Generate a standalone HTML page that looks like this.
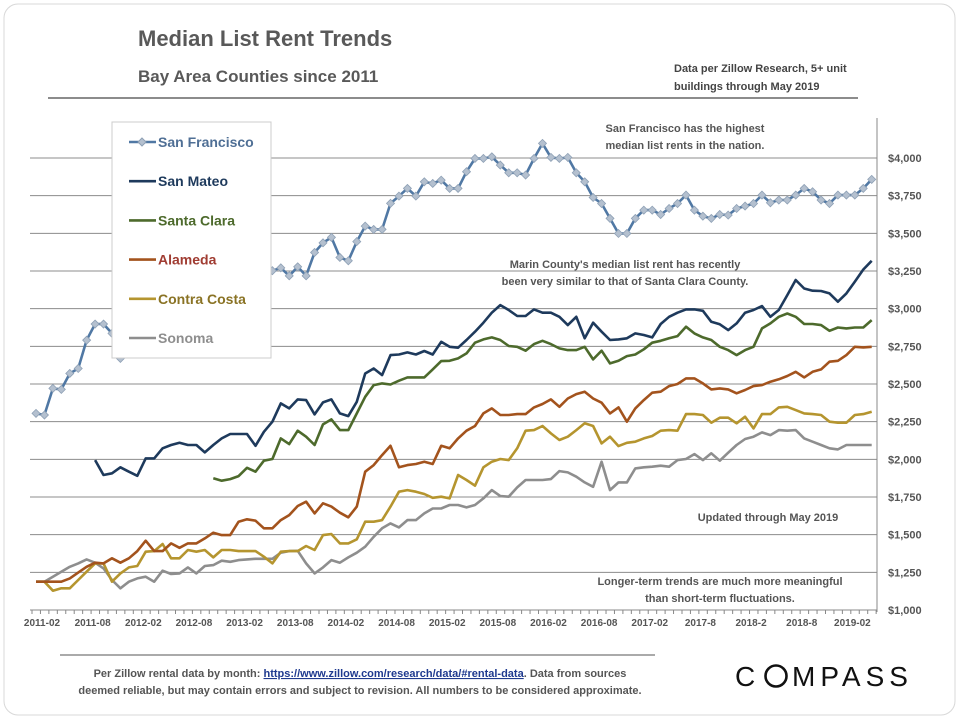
<!DOCTYPE html>
<html><head><meta charset="utf-8"><style>
body{margin:0;background:#fff;width:960px;height:720px;overflow:hidden;font-family:"Liberation Sans",sans-serif}
svg text{font-family:"Liberation Sans",sans-serif}
</style></head><body>
<svg id="chart" width="960" height="720">
<rect x="4" y="4" width="951" height="711" rx="14" fill="#fff" stroke="#d8d8d8"/>
<text x="138" y="46" font-size="22" font-weight="bold" fill="#595959">Median List Rent Trends</text>
<text x="138" y="82" font-size="17" font-weight="bold" fill="#595959">Bay Area Counties since 2011</text>
<line x1="48" y1="98" x2="858" y2="98" stroke="#666" stroke-width="1.5"/>
<text x="674" y="72" font-size="11" font-weight="bold" fill="#444">Data per Zillow Research, 5+ unit</text>
<text x="674" y="90" font-size="11" font-weight="bold" fill="#444">buildings through May 2019</text>
<g id="grid"></g>
<g id="series"></g>
<g id="axes"></g>
<g>
<rect x="112" y="122" width="159" height="236" fill="#fff" stroke="#ccc"/>
</g>
<g id="legend"></g>
<text x="685" y="132" font-size="11" font-weight="bold" fill="#555" text-anchor="middle">San Francisco  has the highest</text>
<text x="685" y="149" font-size="11" font-weight="bold" fill="#555" text-anchor="middle">median list rents in the nation.</text>
<text x="625" y="268" font-size="11" font-weight="bold" fill="#555" text-anchor="middle">Marin County's median list rent has recently</text>
<text x="625" y="285" font-size="11" font-weight="bold" fill="#555" text-anchor="middle">been very similar to that of Santa Clara County.</text>
<text x="768" y="521" font-size="11" font-weight="bold" fill="#555" text-anchor="middle">Updated through May 2019</text>
<text x="720" y="585" font-size="11" font-weight="bold" fill="#555" text-anchor="middle">Longer-term trends are much more meaningful</text>
<text x="720" y="602" font-size="11" font-weight="bold" fill="#555" text-anchor="middle">than short-term fluctuations.</text>
<line x1="60" y1="655" x2="655" y2="655" stroke="#555" stroke-width="1"/>
<text x="360" y="677" font-size="11" font-weight="bold" fill="#555" text-anchor="middle">Per Zillow rental data by month: <tspan fill="#1f3a8f" text-decoration="underline">https://www.zillow.com/research/data/#rental-data</tspan>.  Data from sources</text>
<text x="360" y="694" font-size="11" font-weight="bold" fill="#555" text-anchor="middle">deemed reliable, but may contain errors and subject to revision.  All numbers to be considered approximate.</text>
<g>
<text x="735" y="686" font-size="28" fill="#111" letter-spacing="5">C</text>
<circle cx="776" cy="676" r="10.5" fill="none" stroke="#111" stroke-width="2.6"/>
<text x="792" y="686" font-size="28" fill="#111" letter-spacing="5">MPASS</text>
</g>
</svg>
<script>
const months = 100;
const yTicks = [1000,1250,1500,1750,2000,2250,2500,2750,3000,3250,3500,3750,4000];
const yTickLabels = ["$1,000","$1,250","$1,500","$1,750","$2,000","$2,250","$2,500","$2,750","$3,000","$3,250","$3,500","$3,750","$4,000"];
const xLabelIdx = [0,6,12,18,24,30,36,42,48,54,60,66,72,78,84,90,96];
const xLabels = ["2011-02","2011-08","2012-02","2012-08","2013-02","2013-08","2014-02","2014-08","2015-02","2015-08","2016-02","2016-08","2017-02","2017-8","2018-2","2018-8","2019-02"];
const sfStart = 0;
const sanFrancisco = [2305,2294,2471,2464,2570,2603,2791,2898,2898,2836,2670,2700,2750,2820,2850,2900,2950,2980,3000,3050,3080,3100,3150,3180,3200,3230,3250,3260,
3252,3271,3218,3278,3218,3373,3437,3473,3340,3318,3445,3548,3526,3526,3699,3747,3798,3747,3842,3831,
3853,3798,3798,3909,3997,3997,4008,3953,3902,3902,3887,3997,4097,4004,3997,4004,3902,3842,3738,3698,3599,3499,3499,3599,3654,3654,3625,3665,3698,3754,3654,3614,3599,3625,3621,3665,3681,3698,3754,3703,3721,3721,3754,3798,3776,3721,3698,3754,3754,3754,3798,3858];
const smStart = 7;
const sanMateo = [1995,1896,1907,1947,1918,1891,2006,2006,2073,2095,2110,2095,2095,2046,2095,2139,2168,2168,2168,2090,2183,2250,2371,2338,2398,2393,2298,2378,2398,2305,2287,2382,2570,2603,2559,2692,2696,2710,2696,2719,2696,2780,
2747,2741,2792,2847,2907,2973,3024,2991,2951,2951,2995,2973,2973,2946,2891,2946,2803,2907,2847,2792,2796,2803,2836,2825,2809,2898,2946,2973,2995,2995,2986,2913,2896,2858,2902,2973,2991,3017,2946,2991,3090,3190,3134,3119,3117,3101,3046,3101,3179,3260,3318];
const scStart = 21;
const santaClara = [1874,1858,1869,1889,1944,1918,1991,2002,2139,2101,2190,2150,2095,2232,2265,2194,2194,2305,2415,2493,2504,2497,2522,2544,2544,2544,2597,2652,
2654,2670,2703,2774,2796,2809,2792,2752,2747,2721,2765,2787,2765,2736,2725,2725,2747,2663,2721,2637,2654,2685,2696,2730,2774,2787,2803,2818,2880,2836,2809,2792,2747,2725,2692,2725,2747,2869,2902,2946,2968,2946,2898,2898,2891,2853,2875,2869,2875,2875,2924];
const alStart = 0;
const alameda = [1188,1188,1188,1188,1210,1248,1287,1314,1309,1343,1314,1343,1391,1460,1391,1391,1442,1413,1442,1442,1475,1513,1497,1497,1586,1602,1593,1542,1542,1597,1630,1690,1719,1641,1708,1686,1646,1615,1686,1918,1962,2028,2090,1947,1962,1969,1984,1969,2090,
2073,2139,2190,2221,2305,2338,2294,2294,2300,2300,2345,2367,2398,2349,2404,2433,2449,2404,2376,2305,2345,2250,2338,2393,2442,2449,2486,2500,2537,2537,2504,2464,2471,2464,2438,2460,2486,2493,2515,2531,2553,2581,2544,2581,2597,2648,2654,2692,2747,2743,2747];
const ccStart = 0;
const contraCosta = [1188,1188,1128,1144,1144,1199,1254,1309,1309,1188,1243,1283,1292,1387,1391,1438,1343,1343,1398,1387,1398,1349,1398,1398,1391,1391,1391,1354,1309,1387,1391,1391,1425,1398,1497,1504,1442,1442,1469,1586,1586,1597,1686,1785,1796,1785,1770,1745,1752,
1741,1896,1863,1825,1947,1984,2002,1995,2073,2190,2194,2221,2172,2128,2150,2194,2239,2221,2106,2150,2088,2110,2117,2139,2155,2190,2194,2190,2300,2300,2294,2243,2276,2276,2239,2283,2205,2300,2300,2345,2349,2327,2305,2300,2294,2250,2243,2243,2294,2300,2316];
const soStart = 0;
const sonoma = [1188,1188,1221,1254,1287,1309,1336,1314,1276,1199,1144,1188,1210,1221,1188,1261,1239,1243,1283,1243,1292,1298,1327,1320,1331,1336,1340,1340,1340,1380,1391,1393,1309,1243,1283,1331,1314,1349,1380,1420,1486,1542,1575,1548,1597,1597,1641,1674,1674,
1697,1697,1681,1697,1741,1796,1756,1752,1814,1863,1863,1863,1869,1922,1913,1885,1847,1818,1984,1796,1847,1847,1940,1947,1951,1958,1951,1995,2002,2035,1995,2040,1991,2044,2095,2135,2150,2179,2161,2194,2190,2194,2139,2117,2095,2073,2066,2095,2095,2095,2095];

const NS='http://www.w3.org/2000/svg';
const X0=36, X1=871.7, Y0=610, Y1=158;
function xs(i){return X0+(X1-X0)*i/(months-1);}
function ys(v){return Y0-(v-1000)/(4000-1000)*(Y0-Y1);}
function mk(tag,attrs,parent){const e=document.createElementNS(NS,tag);for(const k in attrs)e.setAttribute(k,attrs[k]);parent.appendChild(e);return e;}
const grid=document.getElementById('grid'),axes=document.getElementById('axes'),ser=document.getElementById('series'),leg=document.getElementById('legend');
yTicks.forEach((t,k)=>{
  if(t>1000){const l=mk('line',{x1:30,x2:877,y1:ys(t),y2:ys(t),stroke:'#8c8c8c','stroke-width':1},grid);
  
  }
  const tx=mk('text',{x:888,y:ys(t)+4,'font-size':11,'font-weight':'bold',fill:'#555'},axes);
  tx.textContent=yTickLabels[k];
  
  
});
const ax=mk('line',{x1:877,x2:877,y1:118,y2:612,stroke:'#888'},axes);


const xa=mk('line',{x1:30,x2:877,y1:610,y2:610,stroke:'#888'},axes);


for(let i=0;i<=months;i++){const tk=mk('line',{x1:xs(i)-4,x2:xs(i)-4,y1:610,y2:614,stroke:'#888'},axes);

}
xLabelIdx.forEach((idx,k)=>{const tx=mk('text',{x:xs(idx)+6,y:626,'font-size':10,'font-weight':'bold',fill:'#555','text-anchor':'middle'},axes);
tx.textContent=xLabels[k];

});
function drawSeries(vals,start,color,name,markers){
  const pts=vals.map((v,j)=>xs(start+j).toFixed(1)+','+ys(v).toFixed(1)).join(' ');
  const pl=mk('polyline',{points:pts,fill:'none',stroke:color,'stroke-width':2.6,'stroke-linejoin':'round'},ser);
  
  
  if(markers){vals.forEach((v,j)=>{const x=xs(start+j),y=ys(v);
    const p=mk('polygon',{points:`${x},${y-4} ${x+4},${y} ${x},${y+4} ${x-4},${y}`,fill:'#b4c0cf',stroke:'#8ea0b5','stroke-width':0.8},ser);
    
    });}
}
drawSeries(sonoma,soStart,'#8e8e8e','sonoma',false);
drawSeries(contraCosta,ccStart,'#b5952f','contra-costa',false);
drawSeries(alameda,alStart,'#a3531d','alameda',false);
drawSeries(santaClara,scStart,'#4d6a2c','santa-clara',false);
drawSeries(sanMateo,smStart,'#1e3a5c','san-mateo',false);
drawSeries(sanFrancisco,sfStart,'#5078a4','san-francisco',true);
const legendNames=['San Francisco','San Mateo','Santa Clara','Alameda','Contra Costa','Sonoma'];
const legendLine=['#5078a4','#1e3a5c','#4d6a2c','#a3531d','#b5952f','#8e8e8e'];
const legendText=['#4f6f95','#1e3a5c','#4d6a2c','#a03c32','#8a7325','#8e8e8e'];
legendNames.forEach((n,k)=>{const y=142+k*39.2;
  const g=mk('g',{},leg);
  
  
  mk('line',{x1:129,x2:156,y1:y,y2:y,stroke:legendLine[k],'stroke-width':2.6},g);
  if(k===0)mk('polygon',{points:`142,${y-4} 146,${y} 142,${y+4} 138,${y}`,fill:'#b4c0cf',stroke:'#8ea0b5'},g);
  const t=mk('text',{x:158,y:y+5,'font-size':14,'font-weight':'bold',fill:legendText[k]},g);t.textContent=n;});
</script>
</body></html>
